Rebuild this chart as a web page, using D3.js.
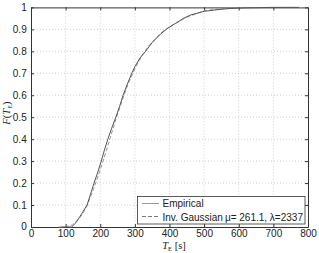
<!DOCTYPE html>
<html>
<head>
<meta charset="utf-8">
<script src="https://cdn.jsdelivr.net/npm/d3@7"></script>
<style>
body { margin: 0; background: #fff; }
text { font-family: "Liberation Sans", Arial, sans-serif; }
</style>
</head>
<body>
<div id="chart"></div>
<script>
// values
var empT = [90, 117, 130, 141, 150, 162, 172, 182, 193, 203, 212, 222, 233, 245, 256, 266, 278, 291, 300, 315, 331, 350, 375, 395, 420, 440, 460, 500, 540, 575, 620, 700, 775];
var empF = [0, 0, 0.02, 0.047, 0.07, 0.1, 0.15, 0.2, 0.25, 0.3, 0.35, 0.4, 0.45, 0.5, 0.55, 0.6, 0.65, 0.7, 0.73, 0.77, 0.8, 0.84, 0.88, 0.905, 0.93, 0.95, 0.965, 0.982, 0.99, 0.995, 0.998, 1, 1];
var fitT = [80, 100, 120, 140, 150, 160, 180, 200, 220, 245, 260, 280, 300, 320, 340, 360, 380, 400, 450, 500, 550, 600, 650, 700, 780];
var fitF = [0, 0.002, 0.01, 0.04, 0.062, 0.09, 0.17, 0.26, 0.36, 0.49, 0.56, 0.65, 0.72, 0.78, 0.825, 0.86, 0.89, 0.912, 0.955, 0.985, 0.994, 0.998, 0.999, 1, 1];
var xTicks = [0, 100, 200, 300, 400, 500, 600, 700, 800];
var yTicks = [0, 0.1, 0.2, 0.3, 0.4, 0.5, 0.6, 0.7, 0.8, 0.9, 1];
var legendLabels = ["Empirical", "Inv. Gaussian\u2009\u03bc= 261.1, \u03bb=2337"];

var W = 319, H = 253;
var plotL = 31, plotR = 308, plotT = 7.4, plotB = 227;

var svg = d3.select("#chart").append("svg").attr("width", W).attr("height", H);

var x = d3.scaleLinear().domain([0, 800]).range([plotL, plotR]);
var y = d3.scaleLinear().domain([0, 1]).range([plotB, plotT]);

// grid
svg.selectAll(".gx").data(xTicks.slice(1, -1)).enter().append("line")
	.attr("x1", function(d) { return x(d); }).attr("x2", function(d) { return x(d); })
	.attr("y1", plotT).attr("y2", plotB)
	.attr("stroke", "#bbb").attr("stroke-width", 0.7).attr("stroke-dasharray", "1,2");
svg.selectAll(".gy").data(yTicks.slice(1, -1)).enter().append("line")
	.attr("y1", function(d) { return y(d); }).attr("y2", function(d) { return y(d); })
	.attr("x1", plotL).attr("x2", plotR)
	.attr("stroke", "#bbb").attr("stroke-width", 0.7).attr("stroke-dasharray", "1,2");

// axes with inward ticks
var ax = svg.append("g").attr("transform", "translate(0," + plotB + ")")
	.call(d3.axisBottom(x).tickValues(xTicks).tickSizeInner(-3).tickSizeOuter(0).tickPadding(2.5));
var ay = svg.append("g").attr("transform", "translate(" + plotL + ",0)")
	.call(d3.axisLeft(y).tickValues(yTicks).tickFormat(d3.format("~g")).tickSizeInner(-3).tickSizeOuter(0).tickPadding(4.3));
svg.append("g").attr("transform", "translate(0," + plotT + ")")
	.call(d3.axisTop(x).tickValues(xTicks).tickSizeInner(-3).tickSizeOuter(0).tickFormat(""));
svg.append("g").attr("transform", "translate(" + plotR + ",0)")
	.call(d3.axisRight(y).tickValues(yTicks).tickSizeInner(-3).tickSizeOuter(0).tickFormat(""));
svg.selectAll(".domain").attr("stroke", "#333");
svg.selectAll(".tick line").attr("stroke", "#333");
svg.selectAll(".tick text").attr("fill", "#222").style("font-size", "10px")
	.style("font-family", "'Liberation Sans', Arial, sans-serif");
ay.selectAll(".tick text").filter(function(d) { return d === 0; }).attr("dy", "0.2em");

// curves
var line = d3.line().x(function(d) { return x(d[0]); }).y(function(d) { return y(d[1]); });
svg.append("path").datum(d3.zip(fitT, fitF)).attr("d", line)
	.attr("fill", "none").attr("stroke", "#999").attr("stroke-width", 1).attr("stroke-dasharray", "4,2");
svg.append("path").datum(d3.zip(empT, empF)).attr("d", line)
	.attr("fill", "none").attr("stroke", "#555").attr("stroke-width", 1);

// legend
var lg = svg.append("g");
lg.append("rect").attr("x", 137.5).attr("y", 196.5).attr("width", 167.5).attr("height", 27.5)
	.attr("fill", "#fff").attr("stroke", "#333").attr("stroke-width", 0.8);
lg.append("line").attr("x1", 142).attr("x2", 159).attr("y1", 203.5).attr("y2", 203.5)
	.attr("stroke", "#999").attr("stroke-width", 1);
lg.append("line").attr("x1", 142).attr("x2", 159).attr("y1", 216.5).attr("y2", 216.5)
	.attr("stroke", "#777").attr("stroke-width", 1).attr("stroke-dasharray", "4,2");
lg.selectAll("text").data(legendLabels).enter().append("text")
	.attr("x", 162.5).attr("y", function(d, i) { return 207 + i * 13.5; })
	.style("font-size", "10px").attr("fill", "#222")
	.text(function(d) { return d; });

// axis labels
var xl = svg.append("text").attr("x", 174).attr("y", 249).attr("text-anchor", "middle")
	.style("font-family", "'Liberation Serif', 'DejaVu Serif', serif").style("font-size", "10.5px").attr("fill", "#222");
xl.append("tspan").style("font-style", "italic").text("T");
xl.append("tspan").attr("dy", 2).style("font-size", "6.5px").text("E");
xl.append("tspan").attr("dy", -2).text(" [s]");

var yl = svg.append("text").attr("transform", "translate(10,113) rotate(-90)").attr("text-anchor", "middle")
	.style("font-family", "'Liberation Serif', 'DejaVu Serif', serif").style("font-size", "10.5px").attr("fill", "#222");
yl.append("tspan").style("font-style", "italic").text("F");
yl.append("tspan").text("(");
yl.append("tspan").style("font-style", "italic").text("T");
yl.append("tspan").attr("dy", 2).style("font-size", "6.5px").text("E");
yl.append("tspan").attr("dy", -2).text(")");
</script>
</body>
</html>
